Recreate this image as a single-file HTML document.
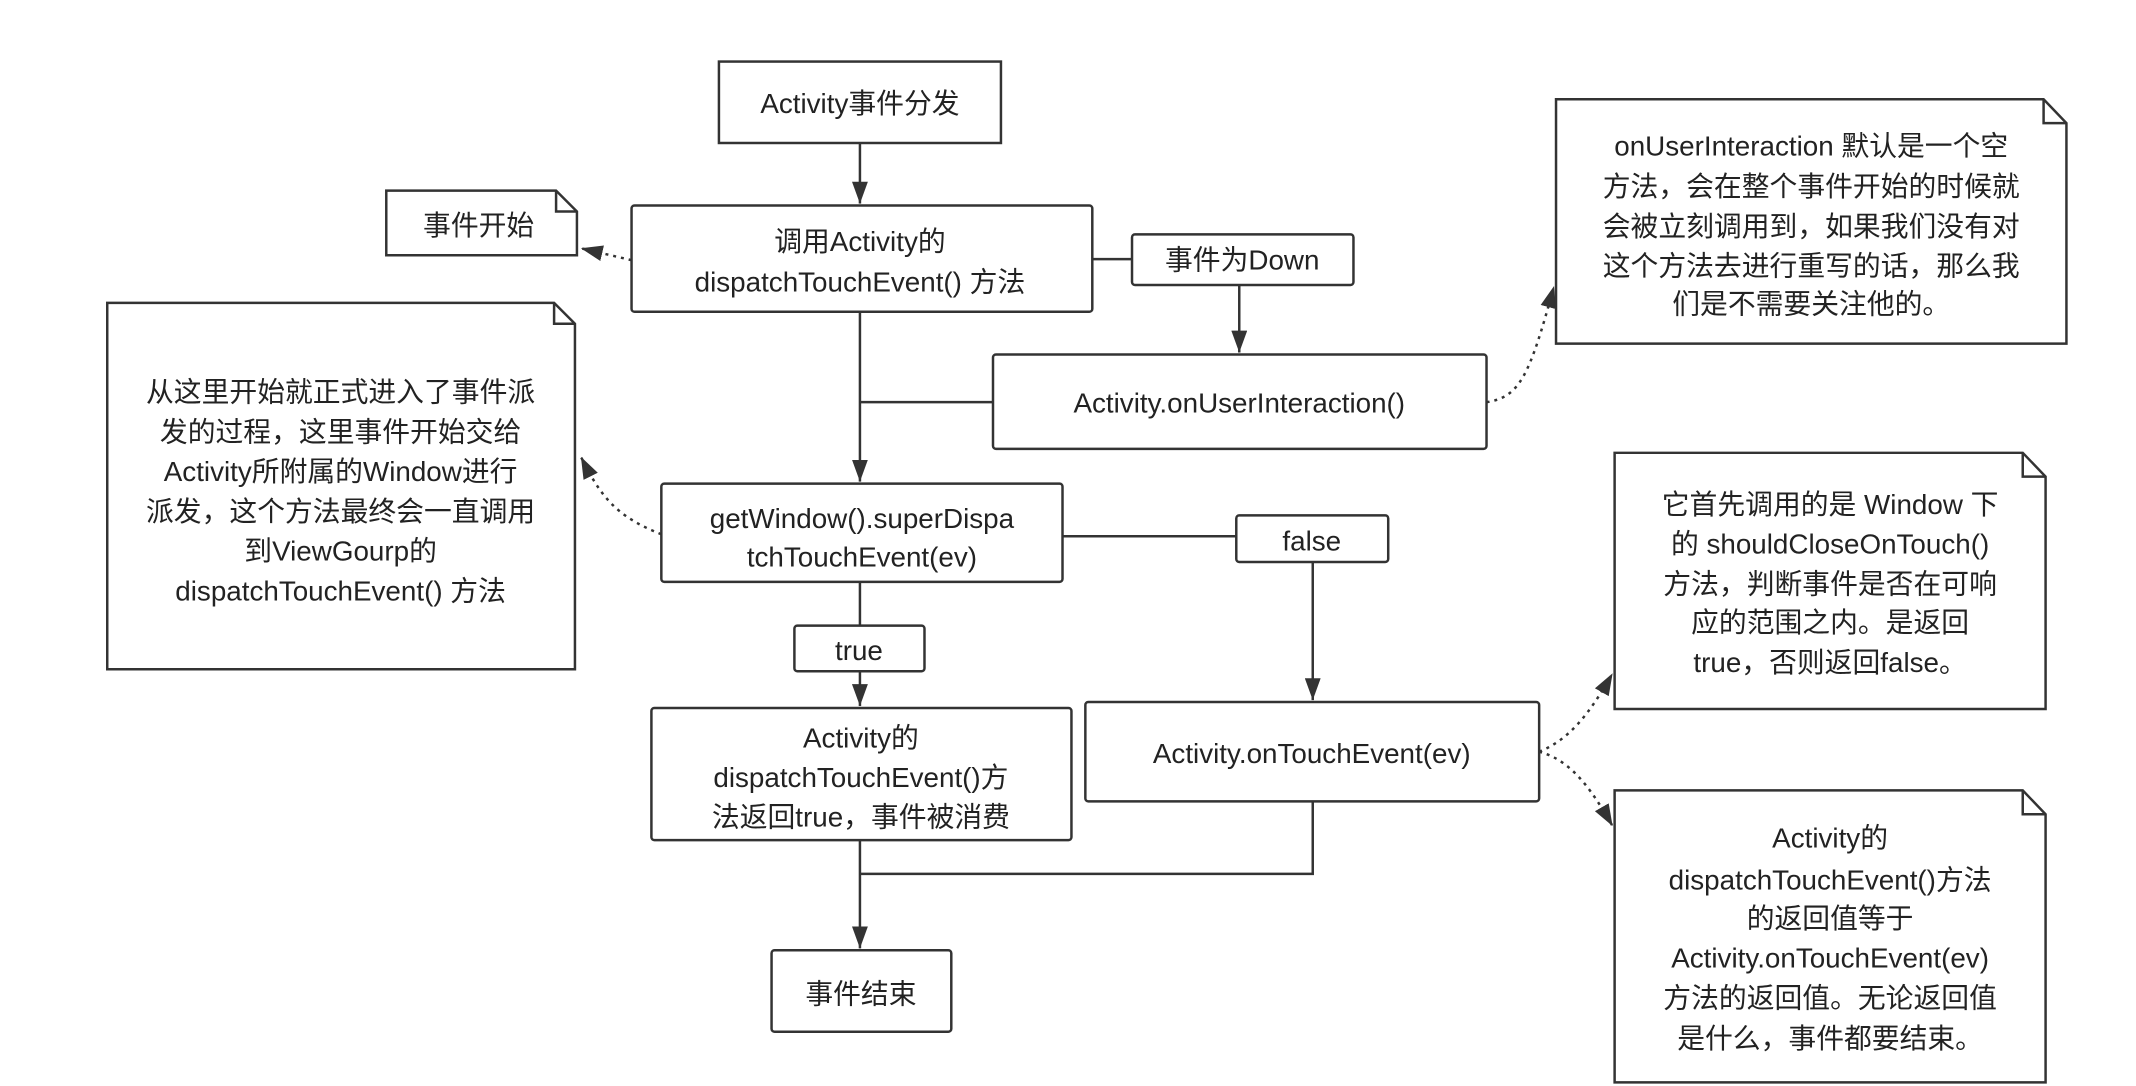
<!DOCTYPE html>
<html><head><meta charset="utf-8"><style>
html,body{margin:0;padding:0;background:#fff;}
svg{display:block;}
text{font-family:"Liberation Sans","Noto Sans CJK SC",sans-serif;font-size:28px;fill:#222;text-anchor:middle;dominant-baseline:central;}
.b{fill:#fff;stroke:#333;stroke-width:2.5;}
.l{fill:none;stroke:#333;stroke-width:2.5;}
.d{fill:none;stroke:#333;stroke-width:2.5;stroke-dasharray:3,5;}
</style></head><body>
<svg width="2136" height="1086" viewBox="0 0 2136 1086" xmlns="http://www.w3.org/2000/svg">
<defs>
<marker id="ab" markerWidth="24" markerHeight="16" refX="22" refY="8" orient="auto" markerUnits="userSpaceOnUse"><path d="M0,0 L22,8 L0,16 z" fill="#333"/></marker>
</defs>
<g transform="scale(0.993)">
<path class="l" d="M866,144 V205" marker-end="url(#ab)"/>
<path class="l" d="M866,314 V485" marker-end="url(#ab)"/>
<path class="l" d="M866,405 H1000"/>
<path class="l" d="M1100,261 H1140"/>
<path class="l" d="M1248,287 V355" marker-end="url(#ab)"/>
<path class="l" d="M1070,540 H1245"/>
<path class="l" d="M1322,566 V705" marker-end="url(#ab)"/>
<path class="l" d="M866,586 V630"/>
<path class="l" d="M866,676 V711" marker-end="url(#ab)"/>
<path class="l" d="M866,846 V955" marker-end="url(#ab)"/>
<path class="l" d="M1322,807 V880 H866"/>

<path class="d" d="M636,262 L585,250" marker-end="url(#ab)"/>
<path class="d" d="M666,538 C620,520 605,500 585,460" marker-end="url(#ab)"/>
<path class="d" d="M1497,405 C1530,400 1540,380 1565,288" marker-end="url(#ab)"/>
<path class="d" d="M1550,757 C1580,745 1600,720 1624,678" marker-end="url(#ab)"/>
<path class="d" d="M1550,757 C1580,765 1600,790 1624,832" marker-end="url(#ab)"/>

<rect class="b" x="724" y="62" width="284" height="82"/>
<text x="866" y="104">Activity事件分发</text>

<rect class="b" x="636" y="207" width="464" height="107" rx="3"/>
<text x="866" y="243">调用Activity的</text>
<text x="866" y="284">dispatchTouchEvent() 方法</text>

<rect class="b" x="1140" y="236" width="223" height="51" rx="3"/>
<text x="1251" y="262">事件为Down</text>

<rect class="b" x="1000" y="357" width="497" height="95" rx="3"/>
<text x="1248" y="406">Activity.onUserInteraction()</text>

<rect class="b" x="666" y="487" width="404" height="99" rx="3"/>
<text x="868" y="522">getWindow().superDispa</text>
<text x="868" y="561">tchTouchEvent(ev)</text>

<rect class="b" x="1245" y="519" width="153" height="47" rx="3"/>
<text x="1321" y="545">false</text>

<rect class="b" x="800" y="630" width="131" height="46" rx="3"/>
<text x="865" y="655">true</text>

<rect class="b" x="656" y="713" width="423" height="133" rx="3"/>
<text x="867" y="743">Activity的</text>
<text x="867" y="783">dispatchTouchEvent()方</text>
<text x="867" y="823">法返回true，事件被消费</text>

<rect class="b" x="1093" y="707" width="457" height="100" rx="3"/>
<text x="1321" y="759">Activity.onTouchEvent(ev)</text>

<rect class="b" x="777" y="957" width="181" height="82" rx="3"/>
<text x="867" y="1001">事件结束</text>

<path class="b" d="M389,192 H560 L581,213 V257 H389 Z"/><path class="l" d="M560,192 V213 H581"/>
<text x="482" y="227">事件开始</text>

<path class="b" d="M108,305 H558 L579,326 V674 H108 Z"/><path class="l" d="M558,305 V326 H579"/>
<text x="343" y="395">从这里开始就正式进入了事件派</text>
<text x="343" y="435">发的过程，这里事件开始交给</text>
<text x="343" y="475">Activity所附属的Window进行</text>
<text x="343" y="515">派发，这个方法最终会一直调用</text>
<text x="343" y="555">到ViewGourp的</text>
<text x="343" y="595">dispatchTouchEvent() 方法</text>

<path class="b" d="M1567,100 H2058 L2081,124 V346 H1567 Z"/><path class="l" d="M2058,100 V124 H2081"/>
<text x="1824" y="147">onUserInteraction 默认是一个空</text>
<text x="1824" y="188">方法，会在整个事件开始的时候就</text>
<text x="1824" y="228">会被立刻调用到，如果我们没有对</text>
<text x="1824" y="268">这个方法去进行重写的话，那么我</text>
<text x="1824" y="306">们是不需要关注他的。</text>

<path class="b" d="M1626,456 H2037 L2060,480 V714 H1626 Z"/><path class="l" d="M2037,456 V480 H2060"/>
<text x="1843" y="508">它首先调用的是 Window 下</text>
<text x="1843" y="548">的 shouldCloseOnTouch()</text>
<text x="1843" y="588">方法，判断事件是否在可响</text>
<text x="1843" y="627">应的范围之内。是返回</text>
<text x="1843" y="667">true，否则返回false。</text>

<path class="b" d="M1626,796 H2037 L2060,820 V1090 H1626 Z"/><path class="l" d="M2037,796 V820 H2060"/>
<text x="1843" y="844">Activity的</text>
<text x="1843" y="886">dispatchTouchEvent()方法</text>
<text x="1843" y="925">的返回值等于</text>
<text x="1843" y="965">Activity.onTouchEvent(ev)</text>
<text x="1843" y="1005">方法的返回值。无论返回值</text>
<text x="1843" y="1046">是什么，事件都要结束。</text>
</g>
</svg>
</body></html>
